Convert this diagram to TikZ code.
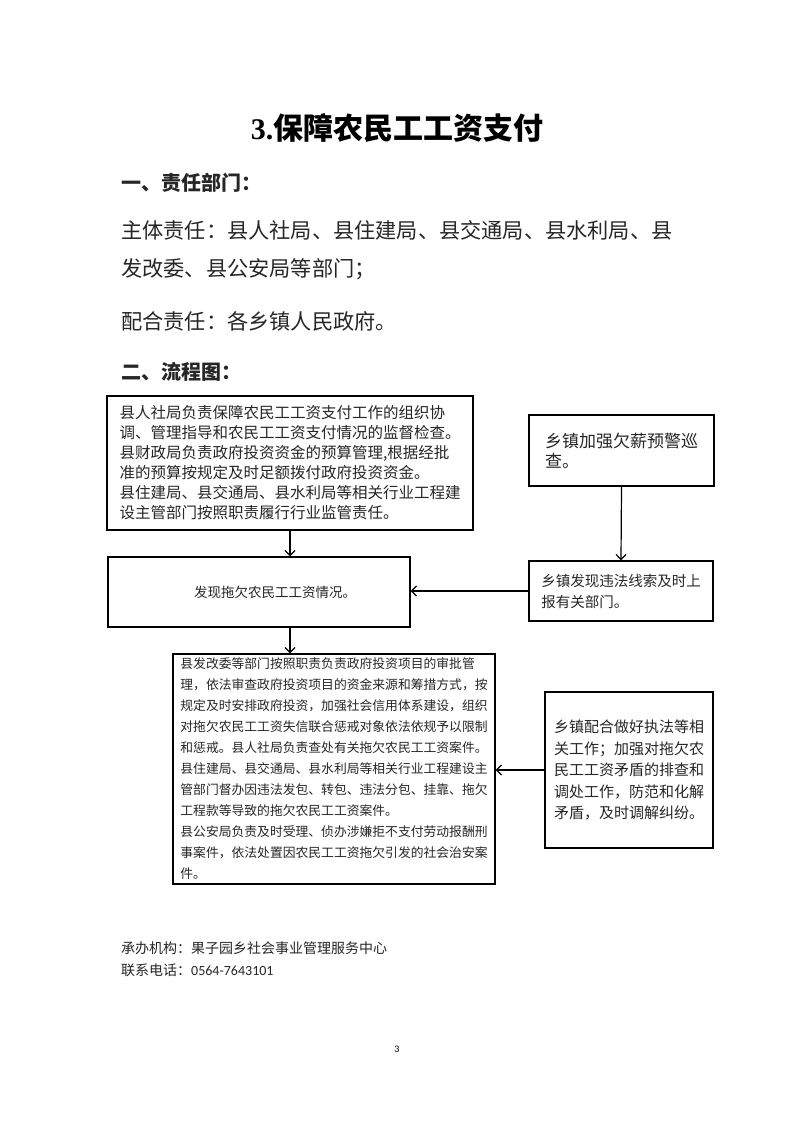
\documentclass[tikz,border=0pt]{standalone}
\usepackage{fontspec}
\setmainfont{Noto Sans CJK SC}
\newfontfamily\latinserif{Liberation Serif}
\newfontfamily\calibri{Carlito}
\usetikzlibrary{arrows.meta}
\tikzset{
  box/.style={draw, line width=1.4pt, rectangle, inner sep=0pt, align=left, text=black!85},
  arr/.style={line width=1.2pt, -{Straight Barb[length=5pt,width=10pt,line width=1.2pt]}},
  txt/.style={anchor=base west, inner sep=0pt, text=black!85},
}
\newcommand{\fs}[2]{\fontsize{#1}{#2}\selectfont}
\begin{document}
\begin{tikzpicture}[x=1pt,y=-1pt]
\useasboundingbox[fill=white] (0,0) rectangle (793,1122);
% title and text
\node[anchor=base, inner sep=0pt] (title) at (397,139.5) {\fs{30}{34}\bfseries{\latinserif 3.}保障农民工工资支付};
\node[txt] (h1) at (121,190.6) {\fs{20}{24}\bfseries 一、责任部门：};
\node[txt] (l1) at (121,238.4) {\fs{21.2}{26}主体责任：县人社局、县住建局、县交通局、县水利局、县};
\node[txt] (l2) at (121,276.4) {\fs{21.2}{26}发改委、县公安局等部门；};
\node[txt] (l3) at (121,329.4) {\fs{21.2}{26}配合责任：各乡镇人民政府。};
\node[txt] (h2) at (121,379.6) {\fs{20}{24}\bfseries 二、流程图：};
% boxes
\node[box, font=\fs{15.5}{20}, minimum width=366pt, minimum height=134pt] (b1) at (290,463) {%
县人社局负责保障农民工工资支付工作的组织协\\
调、管理指导和农民工工资支付情况的监督检查。\\
县财政局负责政府投资资金的预算管理,根据经批\\
准的预算按规定及时足额拨付政府投资资金。\\
县住建局、县交通局、县水利局等相关行业工程建\\
设主管部门按照职责履行行业监管责任。};
\node[box, font=\fs{17}{20}, minimum width=185pt, minimum height=71pt] (b2) at (621.5,450.5) {%
乡镇加强欠薪预警巡\\
查。};
\node[box, font=\fs{13.5}{18}, minimum width=302pt, minimum height=70pt] (b3) at (259,592) {\hspace*{32pt}发现拖欠农民工工资情况。};
\node[box, font=\fs{14.5}{21}, minimum width=184pt, minimum height=60pt] (b4) at (621,591) {%
乡镇发现违法线索及时上\\
报有关部门。};
\node[box, font=\fs{12.8}{21}, minimum width=322pt, minimum height=230pt] (b5) at (334,769) {%
县发改委等部门按照职责负责政府投资项目的审批管\\
理，依法审查政府投资项目的资金来源和筹措方式，按\\
规定及时安排政府投资，加强社会信用体系建设，组织\\
对拖欠农民工工资失信联合惩戒对象依法依规予以限制\\
和惩戒。县人社局负责查处有关拖欠农民工工资案件。\\
县住建局、县交通局、县水利局等相关行业工程建设主\\
管部门督办因违法发包、转包、违法分包、挂靠、拖欠\\
工程款等导致的拖欠农民工工资案件。\\
县公安局负责及时受理、侦办涉嫌拒不支付劳动报酬刑\\
事案件，依法处置因农民工工资拖欠引发的社会治安案\\
件。};
\node[box, font=\fs{15}{21.5}, minimum width=168pt, minimum height=156pt] (b6) at (629,770) {%
乡镇配合做好执法等相\\
关工作；加强对拖欠农\\
民工工资矛盾的排查和\\
调处工作，防范和化解\\
矛盾，及时调解纠纷。};
% connectors
\draw[arr] (b1.south) -- (b1.south |- b3.north);
\draw[arr] (b2.south) -- (b4.north);
\draw[arr] (b4.west) -- (b3.east |- b4.west);
\draw[arr] (b1.south |- b3.south) -- (b1.south |- b5.north);
\draw[arr] (b6.west) -- (b5.east |- b6.west);
% footer
\node[txt] (f1) at (121,953.3) {\fs{14}{18}承办机构：果子园乡社会事业管理服务中心};
\node[txt] (f2) at (121,975.3) {\fs{14}{18}联系电话：{\calibri 0564-7643101}};
\node[anchor=base, inner sep=0pt] (pg) at (397,1052) {\calibri\fs{10}{12}3};
\end{tikzpicture}
\end{document}
